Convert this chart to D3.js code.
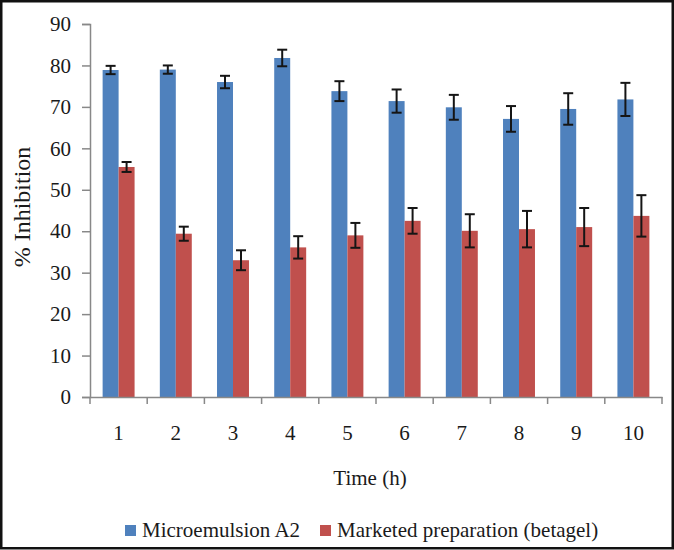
<!DOCTYPE html>
<html>
<head>
<meta charset="utf-8">
<script src="https://cdn.jsdelivr.net/npm/d3@7"></script>
<style>
  html, body { margin: 0; padding: 0; background: #fff; }
  svg { display: block; }
  text { font-family: "Liberation Serif", "Times New Roman", serif; fill: #1a1a1a; }
</style>
</head>
<body>
<svg id="chart" width="674" height="550"></svg>
<script>
// ---- data ----
const categories = ["1", "2", "3", "4", "5", "6", "7", "8", "9", "10"];
const seriesNames = ["Microemulsion A2", "Marketed preparation (betagel)"];
const microemulsion = [78.9, 79.0, 76.0, 81.8, 73.8, 71.4, 69.9, 67.1, 69.5, 71.8];
const microemulsionErr = [1.0, 1.0, 1.5, 2.0, 2.4, 2.8, 3.0, 3.1, 3.8, 4.0];
const marketed = [55.5, 39.4, 33.0, 36.1, 39.0, 42.5, 40.1, 40.5, 41.0, 43.7];
const marketedErr = [1.2, 1.7, 2.4, 2.7, 3.0, 3.1, 4.0, 4.4, 4.6, 5.0];
const yTicks = [0, 10, 20, 30, 40, 50, 60, 70, 80, 90];
const colors = ["#4F81BD", "#C0504D"];

const svg = d3.select("#chart");
const mLeft = 90, mRight = 662, mTop = 24, mBottom = 397;

const x0 = d3.scaleBand().domain(categories).range([mLeft, mRight]).padding(0);
const x1 = d3.scaleBand().domain(seriesNames).range([0, x0.bandwidth()])
  .paddingInner(0).paddingOuter(0.79);
const y = d3.scaleLinear().domain([0, 90]).range([mBottom, mTop]);

const values = [microemulsion, marketed];
const errs = [microemulsionErr, marketedErr];

// frame
svg.append("rect").attr("x", 1.25).attr("y", 1.25).attr("width", 671.5).attr("height", 547)
  .attr("fill", "none").attr("stroke", "#111").attr("stroke-width", 2.5);

// y axis
const yAxis = svg.append("g").attr("transform", `translate(${mLeft},0)`)
  .call(d3.axisLeft(y).tickValues(yTicks).tickSize(8).tickPadding(11).tickFormat(d3.format("d")));
yAxis.selectAll("path, line").attr("stroke", "#888").attr("stroke-width", 1.5);
yAxis.selectAll("text").attr("font-size", 21).attr("fill", "#1a1a1a")
  .style("font-family", '"Liberation Serif", serif');

// bars
seriesNames.forEach((s, si) => {
  svg.append("g").selectAll("rect").data(categories).join("rect")
    .attr("x", c => x0(c) + x1(s))
    .attr("y", (c, i) => y(values[si][i]))
    .attr("width", x1.bandwidth())
    .attr("height", (c, i) => y(0) - y(values[si][i]))
    .attr("fill", colors[si]);
});

// error bars
seriesNames.forEach((s, si) => {
  const g = svg.append("g").attr("stroke", "#151515").attr("stroke-width", 2);
  categories.forEach((c, i) => {
    const cx = x0(c) + x1(s) + x1.bandwidth() / 2;
    const v = values[si][i], e = errs[si][i];
    g.append("line").attr("x1", cx).attr("x2", cx).attr("y1", y(v + e)).attr("y2", y(v - e));
    g.append("line").attr("x1", cx - 5).attr("x2", cx + 5).attr("y1", y(v + e)).attr("y2", y(v + e));
    g.append("line").attr("x1", cx - 5).attr("x2", cx + 5).attr("y1", y(v - e)).attr("y2", y(v - e));
  });
});

// x axis
const xAxis = svg.append("g").attr("transform", `translate(0,${mBottom})`)
  .call(d3.axisBottom(x0).tickSize(0).tickPadding(28));
xAxis.select("path").attr("stroke", "#888").attr("stroke-width", 1.5);
xAxis.selectAll("text").attr("font-size", 21).attr("fill", "#1a1a1a")
  .style("font-family", '"Liberation Serif", serif');
const boundaries = categories.map(c => x0(c)).concat([x0(categories[categories.length - 1]) + x0.bandwidth()]);
svg.append("g").selectAll("line").data(boundaries).join("line")
  .attr("x1", d => d).attr("x2", d => d).attr("y1", mBottom).attr("y2", mBottom + 7)
  .attr("stroke", "#888").attr("stroke-width", 1.5);

// axis titles
svg.append("text").attr("x", 370).attr("y", 485).attr("text-anchor", "middle")
  .attr("font-size", 21).text("Time (h)");
svg.append("text").attr("transform", "translate(30,207) rotate(-90)").attr("text-anchor", "middle")
  .attr("font-size", 24).text("% Inhibition");

// legend
const legendItems = [{ sq: 125, tx: 142 }, { sq: 320, tx: 337 }];
seriesNames.forEach((s, si) => {
  svg.append("rect").attr("x", legendItems[si].sq).attr("y", 525).attr("width", 11).attr("height", 11)
    .attr("fill", colors[si]);
  svg.append("text").attr("x", legendItems[si].tx).attr("y", 537).attr("font-size", 21).text(s);
});
</script>
</body>
</html>
